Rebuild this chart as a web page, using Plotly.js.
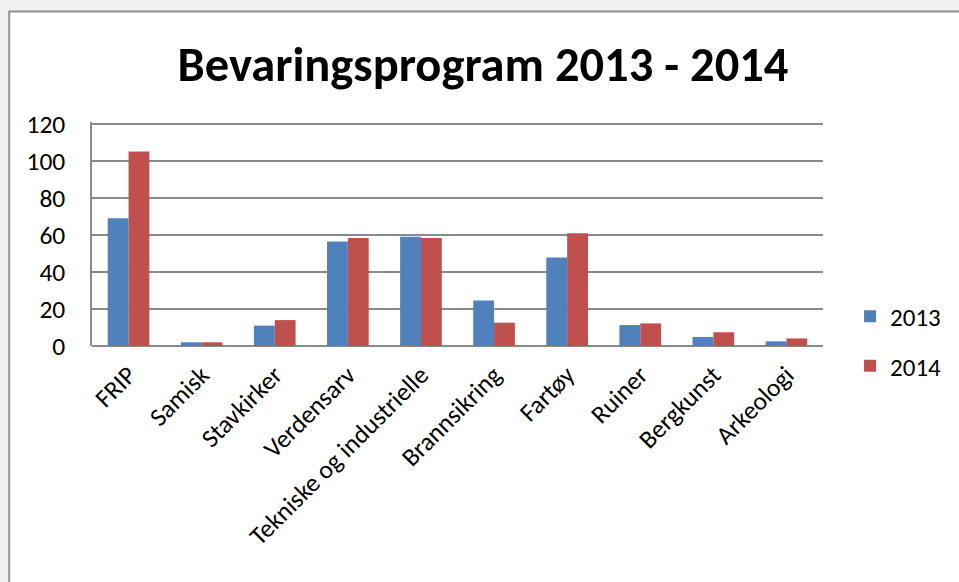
<!DOCTYPE html>
<html>
<head>
<meta charset="utf-8">
<script src="https://cdn.plot.ly/plotly-3.0.1.min.js"></script>
<style>html,body{margin:0;padding:0;background:#f0f0f0;}#chart{width:959px;height:582px;}</style>
</head>
<body>
<div id="chart"></div>
<script>
const categories = ["FRIP", "Samisk", "Stavkirker", "Verdensarv", "Tekniske og industrielle", "Brannsikring", "Fartøy", "Ruiner", "Bergkunst", "Arkeologi"];
const values2013 = [69, 2, 11, 56.5, 59, 24.6, 47.8, 11.3, 4.9, 2.5];
const values2014 = [105, 2, 14, 58.4, 58.4, 12.6, 60.9, 12.2, 7.4, 4.1];
const seriesNames = ["2013", "2014"];
const yTicks = [0, 20, 40, 60, 80, 100, 120];

const FONT = "Carlito, Calibri, Lato, sans-serif";

const traces = [
  {type: "bar", name: seriesNames[0], x: categories, y: values2013, legendgroup: "a",
   marker: {color: "#4F81BD", line: {width: 0}}},
  {type: "bar", name: seriesNames[1], x: categories, y: values2014, legendgroup: "b",
   marker: {color: "#C0504D", line: {width: 0}}}
];

const layout = {
  width: 959, height: 582,
  paper_bgcolor: "#f0f0f0",
  plot_bgcolor: "#ffffff",
  margin: {l: 92, r: 134, t: 121.65, b: 236, pad: 0},
  font: {family: FONT, color: "#000000", size: 25},
  title: {text: "<b>Bevaringsprogram 2013 - 2014</b>", font: {family: FONT, size: 48.5, color: "#000"},
          x: 483/959, xref: "container", xanchor: "center", y: 1 - 64/582, yref: "container", yanchor: "middle"},
  barmode: "group",
  bargap: 0.43,
  bargroupgap: 0,
  showlegend: true,
  legend: {x: 1.037, xanchor: "left", y: 0.022, yanchor: "middle", font: {family: FONT, size: 25},
           traceorder: "grouped", tracegroupgap: 14, bgcolor: "rgba(0,0,0,0)", itemwidth: 30},
  xaxis: {type: "category", tickangle: -45, showgrid: false, showline: false, ticks: "",
          ticklabelstandoff: 8, tickfont: {family: FONT, size: 25.5}},
  yaxis: {range: [0, 121], tickvals: yTicks, ticktext: yTicks.map(String), showgrid: true,
          gridcolor: "#8a8a8a", gridwidth: 1.6, showline: true, linecolor: "#8a8a8a", linewidth: 1.6,
          zeroline: true, zerolinecolor: "#8a8a8a", zerolinewidth: 1.6, ticks: "",
          ticklabelstandoff: 20, tickfont: {family: FONT, size: 25.5}, fixedrange: true},
  shapes: [
    {type: "rect", xref: "paper", yref: "paper", x0: (9-92)/733, x1: 1.6, y0: -2, y1: (346-11)/224.35,
     fillcolor: "#ffffff", line: {color: "#929292", width: 2}, layer: "below"}
  ]
};

Plotly.newPlot("chart", traces, layout, {displayModeBar: false, staticPlot: true});
</script>
</body>
</html>
